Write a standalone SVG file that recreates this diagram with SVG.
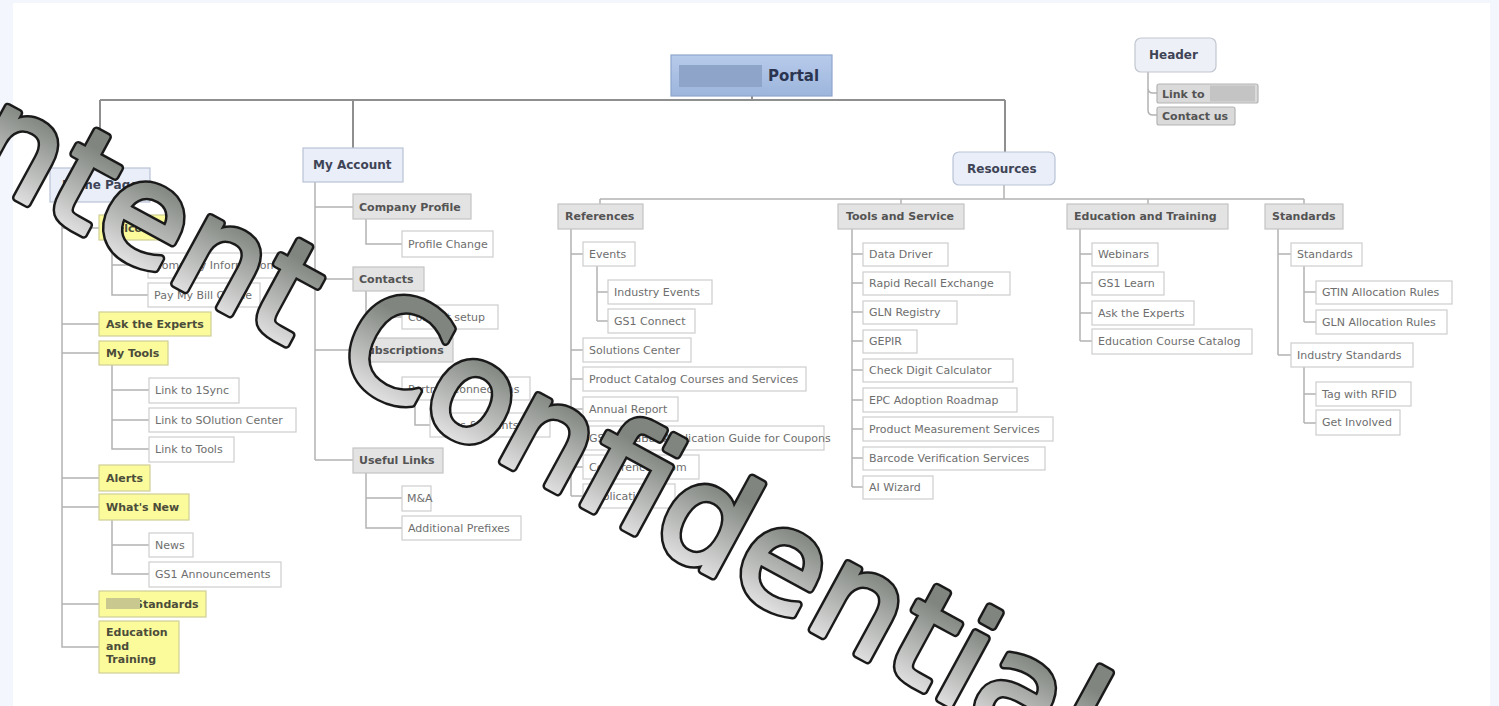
<svg xmlns="http://www.w3.org/2000/svg" width="1499" height="706" viewBox="0 0 1499 706">
  <defs>
    <style>
      text { font-family: "DejaVu Sans", Verdana, sans-serif; }
      .top { fill: #e9eef9; stroke: #b9c3d6; stroke-width: 1.2; }
      .head { fill: #e3e3e3; stroke: #c4c4c4; stroke-width: 1.2; }
      .leaf { fill: #ffffff; stroke: #cdcdcd; stroke-width: 1.2; }
      .hl { fill: #fbfb9c; stroke: #cfcf98; stroke-width: 1.2; }
      .tt { font-size: 12px; font-weight: bold; fill: #3e4455; }
      .ht { font-size: 11px; font-weight: bold; fill: #545454; }
      .yt { font-size: 11px; font-weight: bold; fill: #4c4c3a; }
      .lt { font-size: 11px; fill: #6e6e6e; }
      .c { fill: none; stroke: #b3b3b3; stroke-width: 1.5; }
      .cm { fill: none; stroke: #8f8f8f; stroke-width: 2; }
      .wm { font-size: 138px; }
    </style>
    <linearGradient id="portalFill" x1="0" y1="0" x2="0" y2="1">
      <stop offset="0" stop-color="#b7cbeb"/>
      <stop offset="1" stop-color="#9db5dc"/>
    </linearGradient>
    <!-- vertical shade in the rotated frame: dark at x-height, light at baseline -->
    <linearGradient id="wmGrad" gradientUnits="userSpaceOnUse" x1="0" y1="84" x2="0" y2="168">
      <stop offset="0" stop-color="#80857f"/>
      <stop offset="1" stop-color="#dedede"/>
    </linearGradient>
  </defs>

  <!-- page -->
  <rect x="0" y="0" width="1499" height="706" fill="#f3f7fd"/>
  <rect x="13" y="3" width="1477" height="703" fill="#ffffff"/>

  <!-- connectors -->
  <g id="connectors">
    <path class="cm" d="M100,100 H1005 M100,100 V168 M353,100 V148 M1005,100 V152 M752,96 V100"/>
    <!-- Header -->
    <path class="c" d="M1148,72 V110 Q1148,115 1153,115 H1157 M1148,88 Q1148,93 1153,93 H1157"/>
    <!-- Resources -->
    <path class="c" d="M1004,185 V199 M600,199 H1304 M600,199 V204 M901,199 V204 M1148,199 V204 M1304,199 V204"/>
    <!-- References -->
    <path class="c" d="M571,229 V496 M571,254 H583 M571,350 H583 M571,379 H583 M571,409 H583 M571,438 H583 M571,467 H583 M571,496 H583"/>
    <path class="c" d="M597,266 V321 M597,292 H608 M597,321 H608"/>
    <!-- Tools and Service -->
    <path class="c" d="M852,229 V487 M852,254 H863 M852,283 H863 M852,312 H863 M852,341 H863 M852,370 H863 M852,400 H863 M852,429 H863 M852,458 H863 M852,487 H863"/>
    <!-- Education and Training -->
    <path class="c" d="M1080,229 V341 M1080,254 H1092 M1080,283 H1092 M1080,313 H1092 M1080,341 H1092"/>
    <!-- Standards -->
    <path class="c" d="M1278,229 V355 M1278,254 H1291 M1278,355 H1291"/>
    <path class="c" d="M1304,266 V322 M1304,292 H1316 M1304,322 H1316 M1304,367 V423 M1304,394 H1316 M1304,423 H1316"/>
    <!-- My Account -->
    <path class="c" d="M315,182 V460 M315,207 H353 M315,279 H353 M315,350 H353 M315,460 H353"/>
    <path class="c" d="M366,219 V244 H402 M366,291 V317 H402 M366,362 V389 H402 M366,473 V528 H402 M366,498 H402"/>
    <path class="c" d="M415,400 V425 H430"/>
    <!-- Home Page -->
    <path class="c" d="M62,202 V647 H99 M62,228 H99 M62,324 H99 M62,353 H99 M62,478 H99 M62,507 H99 M62,604 H99"/>
    <path class="c" d="M112,240 V295 H148 M112,265 H148 M112,365 V449 H149 M112,390 H149 M112,420 H149 M112,520 V574 H149 M112,545 H149"/>
  </g>

  <!-- root -->
  <g id="portal">
    <rect x="671" y="55" width="161" height="41" fill="url(#portalFill)" stroke="#8ea6cc" stroke-width="1.2"/>
    <rect x="679" y="65" width="83" height="22" fill="#8ea4c9"/>
    <text x="768" y="81" font-size="15" font-weight="bold" fill="#2b3550">Portal</text>
  </g>

  <g id="header">
    <rect x="1135" y="38" width="81" height="34" rx="6" fill="#eef0f8" stroke="#c2c6ce" stroke-width="1.2"/>
    <text class="tt" x="1149" y="59">Header</text>
  </g>
  <g id="link-to">
    <rect x="1157" y="84" width="101" height="19" rx="2" fill="#dadada" stroke="#b4b4b4" stroke-width="1.2"/>
    <rect x="1210" y="85.5" width="45" height="16" fill="#c4c4c4"/>
    <text class="ht" x="1162" y="97.5" fill="#444">Link to</text>
  </g>
  <g id="contact-us">
    <rect x="1157" y="107" width="78" height="18" rx="2" fill="#dadada" stroke="#b4b4b4" stroke-width="1.2"/>
    <text class="ht" x="1162" y="120" fill="#444">Contact us</text>
  </g>

  <!-- Home Page branch -->
  <g id="home-page">
    <rect class="top" x="50" y="168" width="100" height="34"/>
    <text class="tt" x="62" y="189">Home Page</text>
  </g>
  <g id="welcome"><rect class="hl" x="99" y="215" width="70" height="25"/><text class="yt" x="105" y="232">Welcome</text></g>
  <g id="company-information"><rect class="leaf" x="148" y="253" width="137" height="25"/><text class="lt" x="154" y="269">Company Information</text></g>
  <g id="pay-my-bill"><rect class="leaf" x="148" y="283" width="112" height="24"/><text class="lt" x="154" y="299">Pay My Bill Online</text></g>
  <g id="ask-the-experts-home"><rect class="hl" x="99" y="312" width="112" height="24"/><text class="yt" x="106" y="328">Ask the Experts</text></g>
  <g id="my-tools"><rect class="hl" x="99" y="341" width="69" height="24"/><text class="yt" x="106" y="357">My Tools</text></g>
  <g id="link-1sync"><rect class="leaf" x="149" y="378" width="90" height="25"/><text class="lt" x="155" y="394">Link to 1Sync</text></g>
  <g id="link-solution-center"><rect class="leaf" x="149" y="408" width="147" height="24"/><text class="lt" x="155" y="424">Link to SOlution Center</text></g>
  <g id="link-tools"><rect class="leaf" x="149" y="437" width="85" height="25"/><text class="lt" x="155" y="453">Link to Tools</text></g>
  <g id="alerts"><rect class="hl" x="99" y="465" width="51" height="26"/><text class="yt" x="106" y="482">Alerts</text></g>
  <g id="whats-new"><rect class="hl" x="99" y="494" width="90" height="26"/><text class="yt" x="106" y="511">What's New</text></g>
  <g id="news"><rect class="leaf" x="149" y="533" width="44" height="24"/><text class="lt" x="155" y="549">News</text></g>
  <g id="gs1-announcements"><rect class="leaf" x="149" y="562" width="132" height="25"/><text class="lt" x="155" y="578">GS1 Announcements</text></g>
  <g id="standards-home">
    <rect class="hl" x="99" y="591" width="107" height="26"/>
    <text class="yt" x="135" y="608">Standards</text>
    <rect x="106" y="598" width="34" height="11" fill="#c9c98f"/>
  </g>
  <g id="education-training-home">
    <rect class="hl" x="99" y="621" width="80" height="52"/>
    <text class="yt" x="106" y="636">Education</text>
    <text class="yt" x="106" y="649.5">and</text>
    <text class="yt" x="106" y="663">Training</text>
  </g>

  <!-- My Account branch -->
  <g id="my-account">
    <rect class="top" x="303" y="148" width="100" height="34"/>
    <text class="tt" x="313" y="169">My Account</text>
  </g>
  <g id="company-profile"><rect class="head" x="353" y="194" width="118" height="25"/><text class="ht" x="359" y="211">Company Profile</text></g>
  <g id="profile-change"><rect class="leaf" x="402" y="231" width="91" height="26"/><text class="lt" x="408" y="248">Profile Change</text></g>
  <g id="contacts"><rect class="head" x="353" y="267" width="71" height="24"/><text class="ht" x="359" y="283">Contacts</text></g>
  <g id="contact-setup"><rect class="leaf" x="402" y="305" width="96" height="24"/><text class="lt" x="408" y="321">Contact setup</text></g>
  <g id="subscriptions"><rect class="head" x="353" y="338" width="100" height="24"/><text class="ht" x="359" y="354">Subscriptions</text></g>
  <g id="partner-connections"><rect class="leaf" x="402" y="377" width="128" height="23"/><text class="lt" x="408" y="393">Partner Connections</text></g>
  <g id="news-events"><rect class="leaf" x="430" y="413" width="120" height="24"/><text class="lt" x="436" y="429">News &amp; Events</text></g>
  <g id="useful-links"><rect class="head" x="353" y="448" width="90" height="25"/><text class="ht" x="359" y="464">Useful Links</text></g>
  <g id="m-and-a"><rect class="leaf" x="402" y="486" width="29" height="25"/><text class="lt" x="407" y="502">M&amp;A</text></g>
  <g id="additional-prefixes"><rect class="leaf" x="402" y="516" width="119" height="24"/><text class="lt" x="408" y="532">Additional Prefixes</text></g>

  <!-- Resources branch -->
  <g id="resources">
    <rect x="953" y="152" width="102" height="33" rx="6" fill="#e9eef9" stroke="#b9c3d6" stroke-width="1.2"/>
    <text class="tt" x="967" y="173">Resources</text>
  </g>
  <g id="references"><rect class="head" x="558" y="204" width="85" height="25"/><text class="ht" x="565" y="220">References</text></g>
  <g id="events"><rect class="leaf" x="583" y="242" width="52" height="24"/><text class="lt" x="589" y="258">Events</text></g>
  <g id="industry-events"><rect class="leaf" x="608" y="280" width="104" height="24"/><text class="lt" x="614" y="296">Industry Events</text></g>
  <g id="gs1-connect"><rect class="leaf" x="608" y="309" width="87" height="24"/><text class="lt" x="614" y="325">GS1 Connect</text></g>
  <g id="solutions-center"><rect class="leaf" x="583" y="338" width="108" height="24"/><text class="lt" x="589" y="354">Solutions Center</text></g>
  <g id="product-catalog"><rect class="leaf" x="583" y="367" width="223" height="24"/><text class="lt" x="589" y="383">Product Catalog Courses and Services</text></g>
  <g id="annual-report"><rect class="leaf" x="583" y="397" width="95" height="24"/><text class="lt" x="589" y="413">Annual Report</text></g>
  <g id="coupon-guide"><rect class="leaf" x="583" y="426" width="241" height="24"/><text class="lt" x="589" y="442">GS1 DataBar Application Guide for Coupons</text></g>
  <g id="conference-room"><rect class="leaf" x="583" y="455" width="116" height="24"/><text class="lt" x="589" y="471">Conference Room</text></g>
  <g id="publications"><rect class="leaf" x="583" y="484" width="92" height="24"/><text class="lt" x="589" y="500">Publications</text></g>

  <g id="tools-and-service"><rect class="head" x="838" y="204" width="126" height="25"/><text class="ht" x="846" y="220">Tools and Service</text></g>
  <g id="data-driver"><rect class="leaf" x="863" y="243" width="85" height="23"/><text class="lt" x="869" y="258">Data Driver</text></g>
  <g id="rapid-recall"><rect class="leaf" x="863" y="272" width="147" height="23"/><text class="lt" x="869" y="287">Rapid Recall Exchange</text></g>
  <g id="gln-registry"><rect class="leaf" x="863" y="301" width="94" height="23"/><text class="lt" x="869" y="316">GLN Registry</text></g>
  <g id="gepir"><rect class="leaf" x="863" y="330" width="54" height="23"/><text class="lt" x="869" y="345">GEPIR</text></g>
  <g id="check-digit"><rect class="leaf" x="863" y="359" width="150" height="23"/><text class="lt" x="869" y="374">Check Digit Calculator</text></g>
  <g id="epc-roadmap"><rect class="leaf" x="863" y="388" width="154" height="24"/><text class="lt" x="869" y="404">EPC Adoption Roadmap</text></g>
  <g id="product-measurement"><rect class="leaf" x="863" y="417" width="190" height="24"/><text class="lt" x="869" y="433">Product Measurement Services</text></g>
  <g id="barcode-verification"><rect class="leaf" x="863" y="447" width="182" height="23"/><text class="lt" x="869" y="462">Barcode Verification Services</text></g>
  <g id="ai-wizard"><rect class="leaf" x="863" y="476" width="70" height="23"/><text class="lt" x="869" y="491">AI Wizard</text></g>

  <g id="education-and-training"><rect class="head" x="1067" y="204" width="161" height="25"/><text class="ht" x="1074" y="220">Education and Training</text></g>
  <g id="webinars"><rect class="leaf" x="1092" y="243" width="66" height="23"/><text class="lt" x="1098" y="258">Webinars</text></g>
  <g id="gs1-learn"><rect class="leaf" x="1092" y="272" width="72" height="23"/><text class="lt" x="1098" y="287">GS1 Learn</text></g>
  <g id="ask-the-experts"><rect class="leaf" x="1092" y="301" width="102" height="24"/><text class="lt" x="1098" y="317">Ask the Experts</text></g>
  <g id="education-catalog"><rect class="leaf" x="1092" y="329" width="160" height="25"/><text class="lt" x="1098" y="345">Education Course Catalog</text></g>

  <g id="standards"><rect class="head" x="1265" y="204" width="78" height="25"/><text class="ht" x="1272" y="220">Standards</text></g>
  <g id="standards-sub"><rect class="leaf" x="1291" y="243" width="71" height="23"/><text class="lt" x="1297" y="258">Standards</text></g>
  <g id="gtin-rules"><rect class="leaf" x="1316" y="281" width="136" height="23"/><text class="lt" x="1322" y="296">GTIN Allocation Rules</text></g>
  <g id="gln-rules"><rect class="leaf" x="1316" y="310" width="131" height="24"/><text class="lt" x="1322" y="326">GLN Allocation Rules</text></g>
  <g id="industry-standards"><rect class="leaf" x="1291" y="343" width="122" height="24"/><text class="lt" x="1297" y="359">Industry Standards</text></g>
  <g id="tag-rfid"><rect class="leaf" x="1316" y="382" width="95" height="24"/><text class="lt" x="1322" y="398">Tag with RFID</text></g>
  <g id="get-involved"><rect class="leaf" x="1316" y="410" width="84" height="25"/><text class="lt" x="1322" y="426">Get Involved</text></g>

  <!-- watermark stamp across the chart -->
  <g id="watermark" transform="rotate(28.5)">
    <text class="wm" x="-138" y="166" textLength="1448" lengthAdjust="spacing" fill="none" stroke="#1a1a1a" stroke-width="9" stroke-linejoin="round">Content Confidential</text>
    <text class="wm" x="-138" y="166" textLength="1448" lengthAdjust="spacing" fill="url(#wmGrad)" stroke="url(#wmGrad)" stroke-width="4" stroke-linejoin="round">Content Confidential</text>
  </g>
</svg>
